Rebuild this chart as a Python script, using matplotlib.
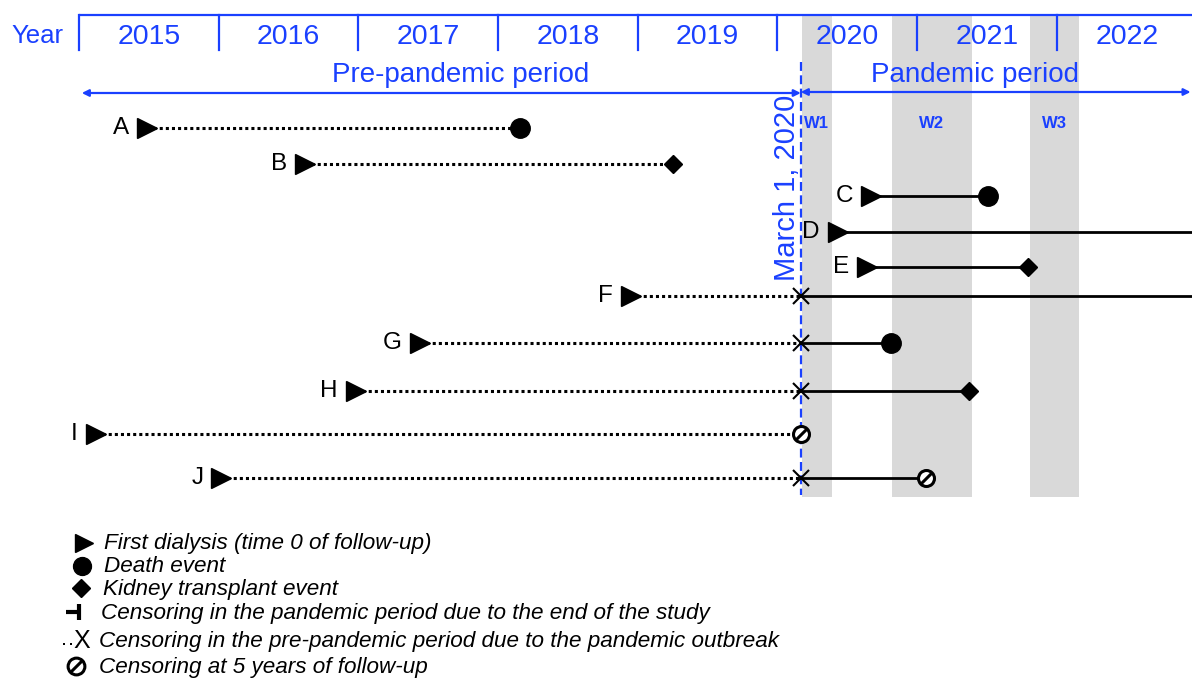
#!/usr/bin/env python3
"""
Follow-up timeline schematic: dialysis patients before / during the pandemic
"""

import matplotlib.pyplot as plt

plt.rcParams['font.family'] = ['Liberation Sans', 'DejaVu Sans']

BLUE = '#1a40ff'
GRAY = '#d9d9d9'

# calendar
years = [2015, 2016, 2017, 2018, 2019, 2020, 2021, 2022]
outbreak = 2020 + 2 / 12          # March 1, 2020
study_end = 2023.0

# pandemic waves
waves = ['W1', 'W2', 'W3']
wave_start = [2020.175, 2020.82, 2021.81]
wave_end = [2020.39, 2021.39, 2022.16]

# patients
subjects = ['A', 'B', 'C', 'D', 'E', 'F', 'G', 'H', 'I', 'J']
dialysis_start = [2015.49, 2016.62, 2020.67, 2020.43, 2020.64,
                  2018.95, 2017.44, 2016.98, 2015.12, 2016.02]
follow_end = [2018.16, 2019.25, 2021.51, study_end, 2021.79,
              study_end, 2020.81, 2021.37, outbreak, 2021.06]
outcome = ['death', 'transplant', 'death', 'end', 'transplant',
           'end', 'death', 'transplant', 'censor5', 'censor5']

# layout (pixel rows)
row_y = [128, 164, 196, 232, 267, 296, 343, 391, 434, 478]

legend_labels = [
    'First dialysis (time 0 of follow-up)',
    'Death event',
    'Kidney transplant event',
    'Censoring in the pandemic period due to the end of the study',
    'Censoring in the pre-pandemic period due to the pandemic outbreak',
    'Censoring at 5 years of follow-up',
]
legend_y = [543, 566, 588, 612, 640, 666]

W, H = 1192, 679
px_per_year = 139.7
x_left = 2015 - 79 / px_per_year
x_right = x_left + W / px_per_year

fig = plt.figure(figsize=(W / 100, H / 100), dpi=100)
ax = fig.add_axes([0, 0, 1, 1])
ax.set_xlim(x_left, x_right)
ax.set_ylim(H, 0)
ax.axis('off')

# waves
for name, a, b in zip(waves, wave_start, wave_end):
    ax.fill_between([a, b], 15, 497, color=GRAY, lw=0, zorder=0)
    ax.text((a + b) / 2, 123, name, color=BLUE, fontsize=12, fontweight='bold',
            ha='center', va='center')

# year header
ax.plot([years[0], x_right], [15, 15], color=BLUE, lw=1.6, solid_capstyle='butt')
for yr in years:
    ax.plot([yr, yr], [15, 50], color=BLUE, lw=1.6)
    ax.text(yr + 0.5, 37, str(yr), color=BLUE, fontsize=20.5, ha='center', va='center')
ax.text(37 / px_per_year + x_left, 36, 'Year', color=BLUE, fontsize=18.5,
        ha='center', va='center')

# periods
arrow = dict(arrowstyle='<|-|>', color=BLUE, lw=1.6, mutation_scale=10,
             shrinkA=0, shrinkB=0)
ax.annotate('', xy=(outbreak, 93), xytext=(years[0] + 0.02, 93), arrowprops=arrow)
ax.annotate('', xy=(x_right - 0.01, 92), xytext=(outbreak, 92), arrowprops=arrow)
ax.text(2017.73, 75, 'Pre-pandemic period', color=BLUE,
        fontsize=20, ha='center', va='center')
ax.text(outbreak + 1.25, 75, 'Pandemic period', color=BLUE,
        fontsize=20, ha='center', va='center')

ax.plot([outbreak, outbreak], [62, 495], color=BLUE, lw=1.6,
        linestyle=(0, (4, 2)), zorder=1)
ax.text(outbreak - 0.1, 188, 'March 1, 2020', color=BLUE, fontsize=21,
        rotation=90, ha='center', va='center')

dotted = dict(color='black', lw=2.2, linestyle=(0, (1, 1)), dash_capstyle='butt', zorder=2)
solid = dict(color='black', lw=2.0, zorder=2)


def end_marker(axis, x, y, kind, scale=1.0):
    if kind == 'death':
        axis.plot(x, y, 'o', color='black', ms=14 * scale, zorder=4)
    elif kind == 'transplant':
        axis.plot(x, y, 'D', color='black', ms=9.5 * scale, zorder=4)
    elif kind == 'censor5':
        axis.plot(x, y, 'o', mfc='white', mec='black', mew=2.2, ms=11.5 * scale, zorder=4)
        axis.plot(x, y, marker=[(-1, -1), (1, 1)], color='black', mew=2.2,
                  ms=7.5 * scale, zorder=5)
    elif kind == 'outbreak':
        axis.plot(x, y, 'x', color='black', mew=1.5, ms=11.5 * scale, zorder=4)


for name, x0, x1, kind, y in zip(subjects, dialysis_start, follow_end, outcome, row_y):
    if x0 < outbreak:
        ax.plot([x0, min(x1, outbreak)], [y, y], **dotted)
        if x1 > outbreak:
            ax.plot([outbreak, x1], [y, y], **solid)
            end_marker(ax, outbreak, y, 'outbreak')
    else:
        ax.plot([x0, x1], [y, y], **solid)
    end_marker(ax, x1, y, kind)
    ax.plot(x0, y, '>', color='black', ms=14, zorder=4)
    ax.annotate(name, (x0, y), xytext=(-13, 0), textcoords='offset points',
                fontsize=17.5, ha='right', va='center')

# legend (pixel coordinates)
lax = fig.add_axes([0, 0, 1, 1])
lax.set_xlim(0, W)
lax.set_ylim(H, 0)
lax.axis('off')
lax.patch.set_visible(False)

lax.plot(84, legend_y[0], '>', color='black', ms=13)
end_marker(lax, 82, legend_y[1], 'death', 0.92)
end_marker(lax, 81, legend_y[2], 'transplant', 0.95)
lax.plot([66, 77], [legend_y[3]] * 2, color='black', lw=3, solid_capstyle='butt')
lax.plot([79, 79], [legend_y[3] - 8, legend_y[3] + 8], color='black', lw=3,
         solid_capstyle='butt')
lax.plot([63.5, 70.5], [legend_y[4] + 4] * 2, 's', color='black', ms=1.8, mew=0,
         linestyle='none')
lax.text(82, legend_y[4] + 1, 'X', fontsize=18, ha='center', va='center')
end_marker(lax, 76, legend_y[5], 'censor5', 1.05)

text_x = [104, 104, 103, 101, 99, 99]
for lbl, tx, ty in zip(legend_labels, text_x, legend_y):
    lax.text(tx, ty + 1, lbl, fontsize=16.2, style='italic', ha='left', va='center')

fig.savefig('out.png', dpi=100)
